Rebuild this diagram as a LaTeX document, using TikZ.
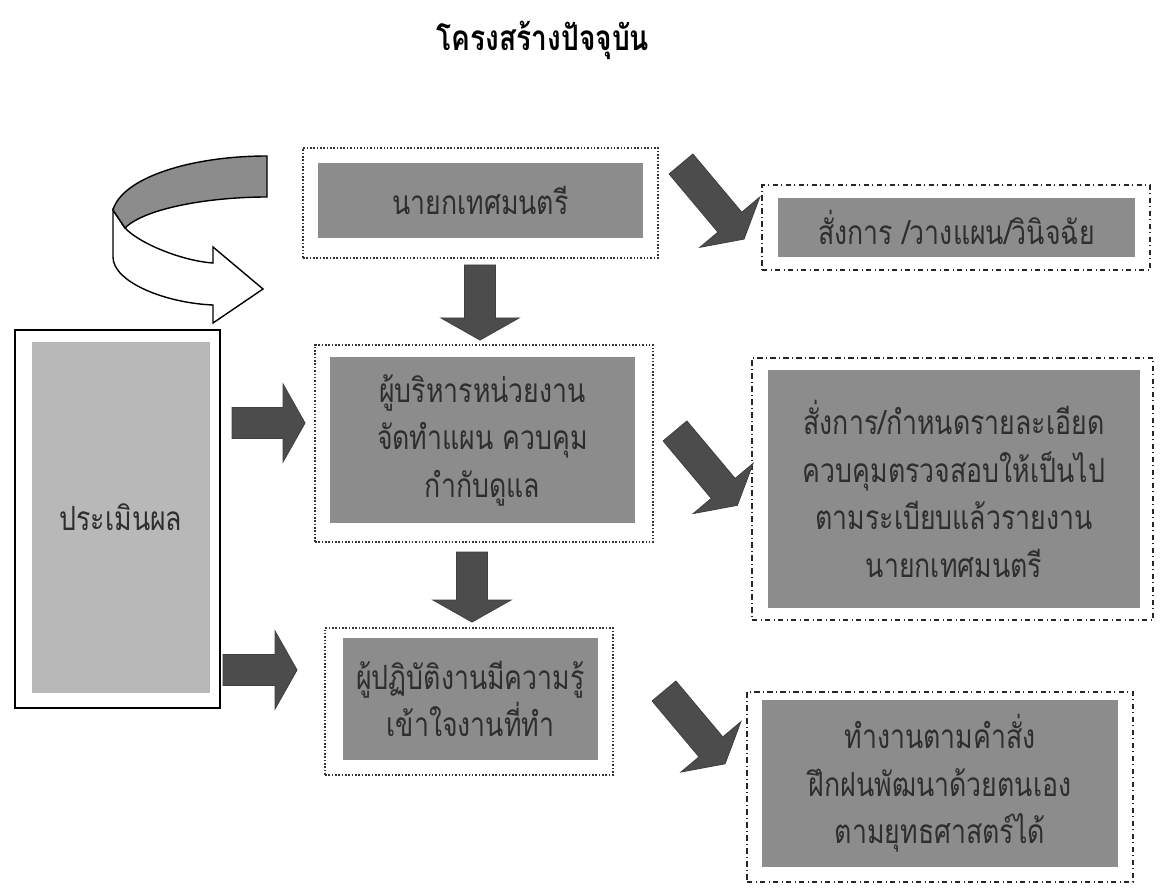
\documentclass[tikz,border=0pt]{standalone}
\usepackage{fontspec}
\newfontfamily\thaifont[Script=Thai, FakeStretch=0.8]{Loma}
\usetikzlibrary{positioning}

\definecolor{boxfill}{gray}{0.55}
\definecolor{evalfill}{gray}{0.72}
\definecolor{arrowfill}{gray}{0.30}
\definecolor{ink}{gray}{0.18}

% block arrow: tail centre, angle, length (in px units)
\newcommand{\fatarrow}[3]{%
    \begin{scope}[shift={#1}, rotate=#2]
        \filldraw[fill=arrowfill, draw=black!75, line width=0.5pt]
            (0,-15.5) -- (#3-22,-15.5) -- (#3-22,-39) -- (#3,0)
            -- (#3-22,39) -- (#3-22,15.5) -- (0,15.5) -- cycle;
    \end{scope}}

\begin{document}
\begin{tikzpicture}[
    x=0.02cm, y=-0.02cm,
    font=\thaifont\fontsize{19}{27}\selectfont,
    inbox/.style={fill=boxfill, inner sep=0pt, align=center, text=ink},
    dotframe/.style={draw=black!80, densely dotted, line width=0.9pt, inner sep=0pt},
    dashframe/.style={draw=black!85, dash dot, line width=1pt, inner sep=0pt},
    evalframe/.style={draw=black, line width=1.1pt, inner sep=0pt}
]
    \useasboundingbox (0,0) rectangle (1165,891);

    % Title
    \node [font=\thaifont\bfseries\fontsize{20}{24}\selectfont] (title) at (543,40) {โครงสร้างปัจจุบัน};

    % Left column
    \node [dotframe, minimum width=7.1cm, minimum height=2.2cm] (MayorFrame) at (480.5,203) {};
    \node [inbox, minimum width=6.5cm, minimum height=1.5cm] (Mayor) at (480.5,200.5) {นายกเทศมนตรี};

    \node [dotframe, minimum width=6.76cm, minimum height=3.94cm] (HeadFrame) at (484,443.5) {};
    \node [inbox, minimum width=6.1cm, minimum height=3.32cm] (Head) at (482.5,440) {ผู้บริหารหน่วยงาน\\จัดทำแผน ควบคุม\\กำกับดูแล};

    \node [dotframe, minimum width=5.76cm, minimum height=2.94cm] (StaffFrame) at (469,701.5) {};
    \node [inbox, minimum width=5.1cm, minimum height=2.44cm] (Staff) at (470.5,699) {ผู้ปฏิบัติงานมีความรู้\\เข้าใจงานที่ทำ};

    % Right column
    \node [dashframe, minimum width=7.76cm, minimum height=1.7cm] (OrderFrame) at (956,227.5) {};
    \node [inbox, minimum width=7.14cm, minimum height=1.18cm] (Order) at (956.5,227.5) {สั่งการ /วางแผน/วินิจฉัย};

    \node [dashframe, minimum width=8.02cm, minimum height=5.24cm] (DetailFrame) at (952.5,489) {};
    \node [inbox, minimum width=7.44cm, minimum height=4.76cm] (Detail) at (954,489) {สั่งการ/กำหนดรายละเอียด\\ควบคุมตรวจสอบให้เป็นไป\\ตามระเบียบแล้วรายงาน\\นายกเทศมนตรี};

    \node [dashframe, minimum width=7.72cm, minimum height=3.8cm] (WorkFrame) at (940,787) {};
    \node [inbox, minimum width=7.12cm, minimum height=3.34cm] (Work) at (940,783.5) {ทำงานตามคำสั่ง\\ฝึกฝนพัฒนาด้วยตนเอง\\ตามยุทธศาสตร์ได้};

    % Evaluation
    \node [evalframe, minimum width=4.1cm, minimum height=7.56cm] (EvalFrame) at (117.5,519) {};
    \node [inbox, fill=evalfill, minimum width=3.56cm, minimum height=7.02cm] (Eval) at (121,517.5) {ประเมินผล};

    % Block arrows
    \fatarrow{(480,265)}{-90}{75}
    \fatarrow{(472,552)}{-90}{70}
    \fatarrow{(232,423)}{0}{73}
    \fatarrow{(223,670)}{0}{74}
    \fatarrow{(681,164)}{-50}{98}
    \fatarrow{(675,431)}{-50}{97}
    \fatarrow{(664,691)}{-50}{95}

    % Feedback ribbon arrow
    \filldraw [fill=white, draw=black, line width=0.8pt]
        (113,210) -- (113,257) .. controls (113,282) and (165,303) .. (213,305)
        -- (213,323) -- (263,289) -- (213,247) -- (213,263)
        .. controls (183,261) and (140,244) .. (125,228) -- cycle;
    \filldraw [fill=boxfill, draw=black, line width=0.8pt]
        (267,156) .. controls (190,156) and (122,178) .. (113,210)
        -- (125,228) .. controls (145,208) and (210,197) .. (267,197) -- cycle;

\end{tikzpicture}
\end{document}
